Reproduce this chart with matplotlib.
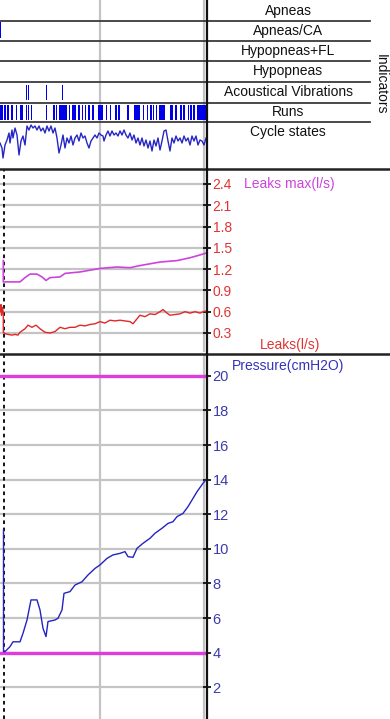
import matplotlib
matplotlib.use("Agg")
import matplotlib.pyplot as plt
from matplotlib.lines import Line2D

plt.rcParams['font.family'] = ['Liberation Sans', 'DejaVu Sans']

# ---------------- data ----------------
row_names = ["Apneas", "Apneas/CA", "Hypopneas+FL", "Hypopneas",
             "Acoustical Vibrations", "Runs", "Cycle states"]

apneas_ca_events = [(0.0, 1.2)]
acoustic_events = [(25.5, 1.0), (28.0, 1.0), (46.0, 1.0), (62.0, 1.0)]
runs_events = [(0, 2.7), (4.3, 1.7), (7.3, 2.0), (11, 1.7), (15.7, 1.6), (20, 2.7),
               (26, 0.8), (27.7, 1.0), (30.7, 0.8), (45.7, 1.0), (53.3, 1.4),
               (56, 1.3), (59.3, 2.4), (62.3, 4.4), (68.7, 1.3), (71.7, 4.3),
               (78.3, 1.7), (81.7, 1.6), (85, 1.0), (88.3, 1.7), (91.7, 2.6),
               (98.3, 4.4), (105.7, 1.0), (110, 1.0), (115, 1.7), (118.3, 1.7),
               (126.7, 2.0), (134.3, 5.7), (142.7, 1.6), (146.7, 1.3), (150, 1.7),
               (152.7, 1.3), (155.7, 1.6), (159.3, 5.4), (170, 3.3), (175, 1.7),
               (180, 1.7), (183.3, 1.7), (187.7, 1.3), (190, 1.7), (193.3, 1.7),
               (196.7, 10.3)]

cycle_x = [0, 2, 3, 5, 7, 9, 10, 12, 13, 15, 17, 19, 21, 23, 25, 27, 29, 31, 33, 35,
           37, 39, 41, 43, 45, 47, 49, 51, 53, 55, 57, 59, 61, 63, 65, 67, 69, 71, 73,
           75, 77, 79, 81, 83, 85, 87, 89, 91, 93, 95, 97, 99, 101, 103, 104, 106, 108,
           110, 112, 114, 116, 118, 120, 122, 124, 126, 128, 130, 132, 134, 136, 138,
           140, 142, 144, 146, 148, 150, 152, 154, 156, 158, 160, 162, 164, 166, 168,
           170, 172, 174, 176, 178, 180, 182, 184, 186, 188, 190, 192, 194, 196, 198,
           200, 202, 204, 206]
cycle_v = [25, 20, 10, 23, 28, 35, 25, 38, 30, 40, 33, 13, 27, 32, 23, 42, 38, 43, 40,
           42, 38, 42, 37, 40, 35, 42, 37, 42, 35, 40, 30, 15, 23, 33, 20, 30, 25, 32,
           23, 30, 33, 27, 35, 30, 32, 25, 20, 27, 30, 33, 30, 35, 33, 32, 27, 33, 37,
           32, 37, 33, 35, 32, 37, 33, 38, 33, 30, 35, 28, 33, 25, 30, 23, 30, 22, 28,
           20, 27, 17, 28, 22, 30, 18, 27, 37, 38, 27, 17, 30, 25, 32, 27, 30, 25, 32,
           27, 30, 23, 32, 27, 32, 23, 28, 27, 23, 30]

leakmax_x = [3.3, 3.3, 5, 20, 25, 30, 37, 42, 46, 50, 60, 65, 80, 100, 117, 130,
             140, 160, 177, 190, 200, 207]
leakmax_v = [1.32, 1.02, 1.02, 1.02, 1.08, 1.13, 1.13, 1.09, 1.04, 1.08, 1.09, 1.14,
             1.16, 1.21, 1.23, 1.22, 1.25, 1.30, 1.32, 1.36, 1.40, 1.43]

leak_x = [0, 1, 1.5, 2.5, 3.3, 3.3, 5, 8, 12, 15, 18, 20, 25, 28, 32, 36, 40, 45,
          50, 55, 60, 65, 70, 75, 80, 85, 90, 95, 100, 105, 110, 115, 120, 125, 130,
          133, 137, 140, 145, 150, 155, 160, 163, 167, 170, 175, 180, 185, 190, 195,
          200, 205, 207]
leak_v = [0.60, 0.70, 0.55, 0.66, 0.58, 0.31, 0.29, 0.28, 0.27, 0.28, 0.27, 0.31,
          0.36, 0.41, 0.38, 0.41, 0.36, 0.31, 0.30, 0.32, 0.38, 0.36, 0.38, 0.38,
          0.41, 0.40, 0.42, 0.43, 0.46, 0.44, 0.48, 0.47, 0.48, 0.47, 0.46, 0.43,
          0.50, 0.55, 0.53, 0.57, 0.56, 0.60, 0.63, 0.58, 0.55, 0.56, 0.57, 0.60,
          0.58, 0.60, 0.58, 0.61, 0.59]
leak_ticks = [0.3, 0.6, 0.9, 1.2, 1.5, 1.8, 2.1, 2.4]

pressure_x = [3.5, 3.5, 5, 10, 13, 20, 23, 27, 31, 37, 40, 43, 46, 48, 55, 58, 62,
              64, 70, 75, 82, 88, 95, 100, 107, 113, 120, 125, 128, 133, 137, 143,
              150, 155, 162, 168, 173, 177, 183, 188, 192, 197, 203, 207]
pressure_v = [11.1, 4.06, 4.06, 4.35, 4.63, 4.63, 5.12, 5.89, 7.05, 7.05, 6.47, 5.41,
              4.93, 5.8, 5.89, 5.99, 6.47, 7.43, 7.53, 7.91, 8.1, 8.49, 8.87, 9.07,
              9.45, 9.65, 9.74, 9.84, 9.55, 9.51, 10.03, 10.32, 10.61, 10.9, 11.19,
              11.47, 11.57, 11.86, 12.05, 12.44, 12.82, 13.3, 13.79, 14.07]
pressure_limits = [20, 4]
pressure_ticks = [2, 4, 6, 8, 10, 12, 14, 16, 18, 20]

# ---------------- layout ----------------
W, H = 390, 719
fig = plt.figure(figsize=(W / 100, H / 100), dpi=100)
fig.patch.set_facecolor('white')


def rect(x0, y0, x1, y1):
    return [x0 / W, 1 - y1 / H, (x1 - x0) / W, (y1 - y0) / H]


def fig_line(x0, y0, x1, y1, color, lw):
    fig.add_artist(Line2D([x0 / W, x1 / W], [1 - y0 / H, 1 - y1 / H],
                          transform=fig.transFigure, color=color, lw=lw))


XR = 207
GRID_C = '#c4c4c4'
row_bounds = [0, 21, 41, 61, 82, 103, 122, 168]
events = [[], apneas_ca_events, [], [], acoustic_events, runs_events]
event_fill = [(0.1, 0.8), (0.15, 0.8), (0.1, 0.8), (0.1, 0.8), (0.15, 0.7), (0.1, 0.8)]


def clean(ax):
    for s in ax.spines.values():
        s.set_visible(False)
    ax.set_xticks([])
    ax.set_yticks([])
    ax.set_xlim(0, XR)


for i in range(6):
    ax = fig.add_axes(rect(0, row_bounds[i], XR, row_bounds[i + 1]))
    clean(ax)
    ax.set_ylim(0, 1)
    for gx in (100, 204):
        ax.axvline(gx, color=GRID_C, lw=1.6, zorder=0)
    if events[i]:
        ax.broken_barh(events[i], event_fill[i], facecolors='#0000e8', edgecolor='none')

# cycle states
axc = fig.add_axes(rect(0, 122, XR, 168))
clean(axc)
axc.set_ylim(0, 46)
for gx in (100, 204):
    axc.axvline(gx, color=GRID_C, lw=1.6, zorder=0)
axc.plot(cycle_x, cycle_v, color='#2626c4', lw=1.0)

# row labels
for i, name in enumerate(row_names):
    yc = (row_bounds[i] + row_bounds[i + 1]) / 2 if i < 6 else 132
    fig.text(288 / W, 1 - yc / H, name, ha='center', va='center', fontsize=10,
             color='#111111')
for yb in row_bounds[1:-1]:
    fig_line(0, yb, 370, yb, '#3a3a3a', 1.3)
fig.text(381 / W, 1 - 84 / H, "Indicators", rotation=270, ha='center', va='center',
         fontsize=10, color='#111111')

# ---------------- leaks panel ----------------
axl = fig.add_axes(rect(0, 170, XR, 352))
for s in axl.spines.values():
    s.set_visible(False)
axl.set_xlim(0, XR)
axl.set_ylim(0.032, 2.597)
axl.set_yticks(leak_ticks)
axl.set_yticklabels([f"{t:.1f}" for t in leak_ticks])
axl.yaxis.tick_right()
axl.tick_params(axis='y', direction='inout', length=6, width=1.2, color='black',
                labelcolor='#e03434', labelsize=10, pad=1)
axl.set_xticks([100, 204])
axl.tick_params(axis='x', length=0, labelbottom=False)
axl.grid(True, color=GRID_C, lw=1.6)
axl.set_axisbelow(True)
axl.axvline(4, color='black', ls=(0, (2, 2)), lw=1.3)
axl.plot(leakmax_x, leakmax_v, color='#cc44dd', lw=1.2)
axl.plot(leak_x, leak_v, color='#e02828', lw=1.0)
fig.text(244 / W, 1 - 184 / H, "Leaks max(l/s)", ha='left', va='center', fontsize=10,
         color='#cc44dd')
fig.text(260 / W, 1 - 345 / H, "Leaks(l/s)", ha='left', va='center', fontsize=10,
         color='#e03434')

# ---------------- pressure panel ----------------
axp = fig.add_axes(rect(0, 355, XR, 719))
for s in axp.spines.values():
    s.set_visible(False)
axp.set_xlim(0, XR)
axp.set_ylim(0.17, 21.2)
axp.set_yticks(pressure_ticks)
axp.yaxis.tick_right()
axp.tick_params(axis='y', direction='inout', length=6, width=1.2, color='black',
                labelcolor='#3c3caa', labelsize=10.5, pad=1)
axp.set_xticks([100, 204])
axp.tick_params(axis='x', length=0, labelbottom=False)
axp.grid(True, color=GRID_C, lw=1.6)
axp.set_axisbelow(True)
axp.axvline(4, color='black', ls=(0, (2, 2)), lw=1.3)
for lim in pressure_limits:
    axp.axhline(lim, color='#dd3ddd', lw=2.4)
axp.plot(pressure_x, pressure_v, color='#2424c0', lw=1.0)
fig.text(232 / W, 1 - 366 / H, "Pressure(cmH2O)", ha='left', va='center', fontsize=10,
         color='#3333bb')

# ---------------- frame lines ----------------
fig_line(0, 168.5, W, 168.5, '#222222', 1.8)
fig_line(0, 353.5, W, 353.5, '#222222', 1.8)
fig_line(XR, 0, XR, H, '#111111', 1.6)

fig.savefig('out.png', dpi=100, facecolor='white')
